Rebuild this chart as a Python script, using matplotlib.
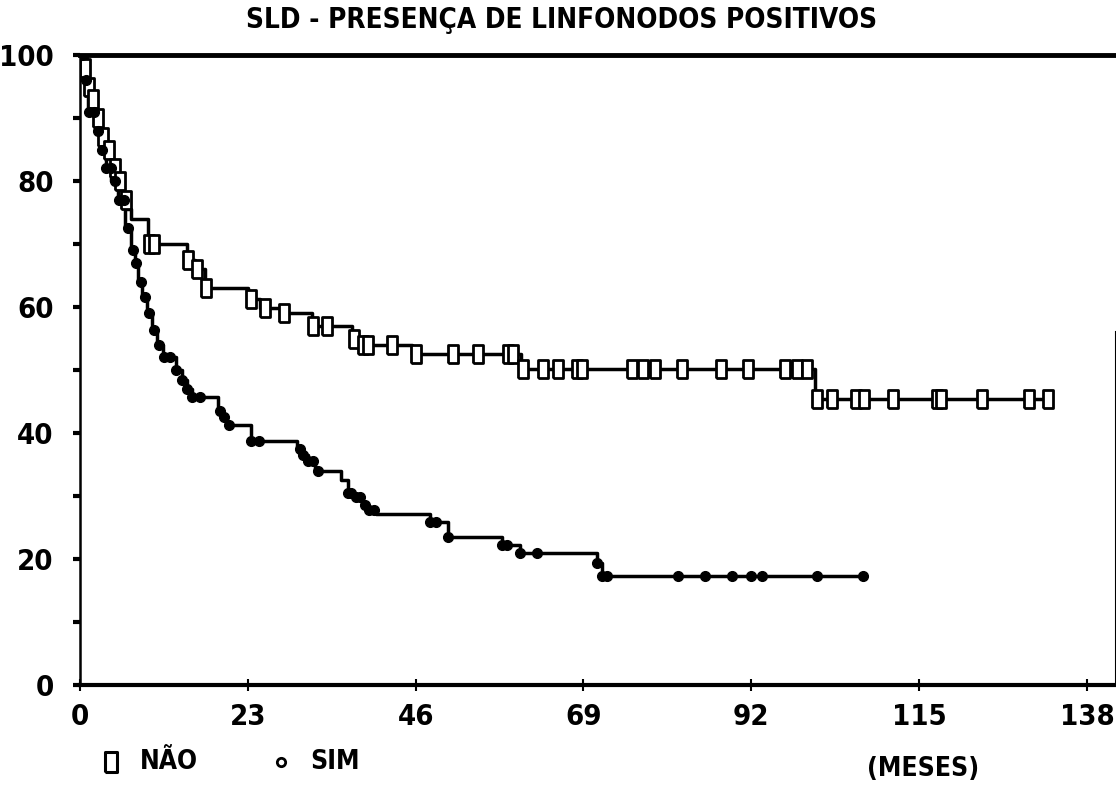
import numpy as np
import matplotlib
matplotlib.use("Agg")
import matplotlib.pyplot as plt
from matplotlib import font_manager

# the scan uses a narrow printer font: take a narrow/condensed face if one is installed
narrow = None
for f in font_manager.fontManager.ttflist:
    st = str(f.stretch).lower()
    if ('narrow' in f.name.lower() or 'condensed' in f.name.lower()
            or 'condensed' in st) and f.weight in ('bold', 700, 'heavy'):
        narrow = f.name
        break
if narrow:
    plt.rcParams['font.family'] = [narrow, 'DejaVu Sans']
    plt.rcParams['font.stretch'] = 'condensed'
    big, mid, small = 21, 20, 19
else:
    plt.rcParams['font.family'] = ['Liberation Sans', 'DejaVu Sans']
    big, mid, small = 18, 17, 16
plt.rcParams['font.weight'] = 'bold'

# Kaplan-Meier steps (time in months, survival in %)
nao_t = [0, 0.4, 0.8, 1.3, 2.0, 2.7, 3.4, 4.2, 5.0, 5.8, 6.5, 7.0, 9.3,
         14.6, 15.8, 17.1, 23.0, 24.7, 27.7, 31.8, 37.3, 38.0, 45.5, 60.4,
         100.7, 132.6]
nao_s = [100, 98, 95, 93, 90, 87, 85, 82, 80, 77, 75.5, 74, 70.0,
         67.5, 66, 63, 61.3, 59.8, 59, 57, 55, 54, 52.5, 50.2,
         45.4, 45.4]
nao_marks = [0.3, 0.7, 1.2, 1.8, 2.5, 3.2, 4.0, 4.8, 5.5, 6.3, 9.5, 10.2,
             14.8, 16.0, 17.2, 23.4, 25.3, 28.0, 32.0, 33.8, 37.6, 38.8,
             39.5, 42.8, 46.0, 51.1, 54.5, 58.6, 59.3, 60.7, 63.4, 65.5,
             68.1, 68.8, 75.6, 77.1, 78.8, 82.5, 87.9, 91.5, 96.6, 98.2,
             99.6, 101.0, 103.0, 106.4, 107.5, 111.4, 117.5, 118.0, 123.6,
             130.1, 132.6]

sim_t = [0, 0.5, 1.1, 2.0, 2.7, 3.5, 4.3, 5.2, 6.2, 7.0, 7.5, 8.0, 8.5,
         9.2, 9.9, 10.6, 11.4, 13.2, 14.0, 14.7, 15.3, 18.9, 19.6, 20.0,
         23.5, 29.8, 30.5, 31.3, 32.2, 35.8, 36.7, 37.5, 38.6, 39.5, 40.5,
         48.0, 50.4, 57.8, 60.3, 70.8, 71.5, 107.5]
sim_s = [100, 96, 91, 88, 85, 82, 80, 77, 72.5, 69, 67, 64, 61.6,
         59, 56.3, 54, 52, 50, 48.4, 47, 45.7, 43.5, 42.5, 41.3,
         38.8, 37.5, 36.5, 35.5, 34, 32.5, 30.5, 29.8, 28.6, 27.8, 27.1,
         25.9, 23.5, 22.2, 21, 19.3, 17.3, 17.3]
sim_marks = [0.3, 0.8, 1.3, 1.9, 2.4, 3.0, 3.6, 4.2, 4.8, 5.4, 6.0, 6.6,
             7.2, 7.7, 8.3, 8.9, 9.5, 10.1, 10.8, 11.5, 12.4, 13.2, 14.0,
             14.7, 15.3, 16.5, 19.2, 19.8, 20.4, 23.5, 24.5, 30.1, 30.6,
             31.3, 32.0, 32.6, 36.7, 37.2, 37.8, 38.4, 39.0, 39.6, 40.3,
             48.0, 48.8, 50.4, 57.8, 58.5, 60.3, 62.6, 70.8, 71.5, 72.2,
             81.9, 85.6, 89.3, 92.0, 93.4, 101.0, 107.3]

xticks = [0, 23, 46, 69, 92, 115, 138]
yticks = [0, 20, 40, 60, 80, 100]


def step_value(t, s, x):
    idx = np.searchsorted(t, x, side='right') - 1
    return np.asarray(s)[idx]


# tall narrow box marker like the printer glyph
box = [(-0.3, -0.5), (0.3, -0.5), (0.3, 0.5), (-0.3, 0.5), (-0.3, -0.5)]

fig = plt.figure(figsize=(11.16, 7.94), dpi=100)
ax = fig.add_axes([80 / 1116, 1 - 685 / 794, 1036 / 1116, 630 / 794])

ax.plot(nao_t, nao_s, drawstyle='steps-post', color='black', lw=2.5)
ax.plot(sim_t, sim_s, drawstyle='steps-post', color='black', lw=2.5)
ax.plot(nao_marks, step_value(nao_t, nao_s, nao_marks), ls='none',
        marker=box, ms=13, mfc='white', mec='black', mew=2)
ax.plot(sim_marks, step_value(sim_t, sim_s, sim_marks), ls='none',
        marker='o', ms=7, color='black')

ax.set_xlim(0, 141.98)
ax.set_ylim(0, 100)

ax.set_xticks(xticks)
ax.set_yticks(yticks)
ax.set_yticks(np.arange(0, 101, 10), minor=True)
ax.tick_params(axis='x', direction='inout', length=8, width=1.5, pad=9,
               labelsize=big)
ax.tick_params(axis='y', direction='out', length=5, width=3, pad=14,
               labelsize=big)
ax.tick_params(axis='y', which='minor', direction='out', length=5, width=3)
for lab in ax.get_xticklabels() + ax.get_yticklabels():
    lab.set_fontweight('bold')

ax.spines['top'].set_linewidth(3.5)
ax.spines['bottom'].set_linewidth(3)
ax.spines['left'].set_linewidth(1.8)
ax.spines['right'].set_linewidth(1.5)
ax.spines['right'].set_bounds(0, 56)

fig.text(562 / 1116, 1 - 20 / 794, "SLD - PRESENÇA DE LINFONODOS POSITIVOS",
         ha='center', va='center', fontsize=mid, fontweight='bold')

# legend drawn as loose text under the axis, as in the original
ax.plot([111 / 1116], [1 - 762 / 794], transform=fig.transFigure,
        clip_on=False, ls='none', marker=box, ms=14, mfc='white',
        mec='black', mew=2.2)
fig.text(140 / 1116, 1 - 762 / 794, "NÃO", ha='left', va='center',
         fontsize=small, fontweight='bold')
ax.plot([281 / 1116], [1 - 762 / 794], transform=fig.transFigure,
        clip_on=False, ls='none', marker='o', ms=6, mfc='white',
        mec='black', mew=2)
fig.text(310 / 1116, 1 - 762 / 794, "SIM", ha='left', va='center',
         fontsize=small, fontweight='bold')
fig.text(867 / 1116, 1 - 769 / 794, "(MESES)", ha='left', va='center',
         fontsize=small, fontweight='bold')

fig.savefig("out.png", dpi=100, facecolor='white')
